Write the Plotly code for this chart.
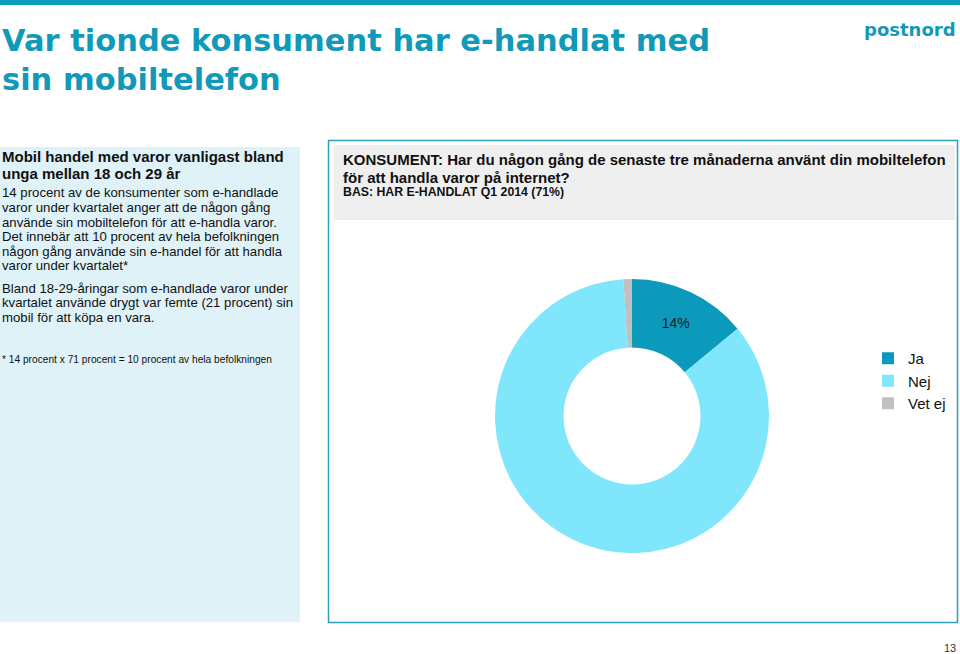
import plotly.graph_objects as go

labels = ["Ja", "Nej", "Vet ej"]
values = [14, 85, 1]
colors = ["#0b9abb", "#80e6fb", "#c0c0c0"]
slice_text = ["14%", "", ""]

W, H = 960, 654
TEAL = "#1199b9"

title_lines = ["Var tionde konsument har e-handlat med", "sin mobiltelefon"]
heading_lines = ["Mobil handel med varor vanligast bland", "unga mellan 18 och 29 år"]
body1 = ["14 procent av de konsumenter som e-handlade",
         "varor under kvartalet anger att de någon gång",
         "använde sin mobiltelefon för att e-handla varor.",
         "Det innebär att 10 procent av hela befolkningen",
         "någon gång använde sin e-handel för att handla",
         "varor under kvartalet*"]
body2 = ["Bland 18-29-åringar som e-handlade varor under",
         "kvartalet använde drygt var femte (21 procent) sin",
         "mobil för att köpa en vara."]
footnote = "* 14 procent x 71 procent = 10 procent av hela befolkningen"
question = ["KONSUMENT: Har du någon gång de senaste tre månaderna använt din mobiltelefon",
            "för att handla varor på internet?"]
base_text = "BAS: HAR E-HANDLAT Q1 2014 (71%)"

def px(x):
    return x / W

def py(y):
    return 1 - y / H

fig = go.Figure()
fig.add_trace(go.Pie(
    labels=labels, values=values, hole=0.5, sort=False, direction="clockwise",
    rotation=0, marker=dict(colors=colors, line=dict(width=0)),
    text=slice_text, textinfo="text", textposition="inside",
    insidetextorientation="horizontal",
    textfont=dict(family="Liberation Sans", size=14, color="#1a1a1a"),
    domain=dict(x=[px(632 - 137), px(632 + 137)], y=[py(416 + 137), py(416 - 137)]),
    hoverinfo="label+percent",
))

shapes = [
    dict(type="rect", xref="paper", yref="paper", x0=0, x1=1, y0=py(5), y1=1,
         fillcolor="#0e9cbb", line=dict(width=0), layer="below"),
    dict(type="rect", xref="paper", yref="paper", x0=0, x1=px(300), y0=py(622), y1=py(147),
         fillcolor="#dff2f8", line=dict(width=0), layer="below"),
    dict(type="rect", xref="paper", yref="paper", x0=px(328.5), x1=px(957.5), y0=py(622.5), y1=py(140.5),
         fillcolor="rgba(0,0,0,0)", line=dict(width=1.5, color="#2c9fbd"), layer="below"),
    dict(type="rect", xref="paper", yref="paper", x0=px(334), x1=px(955), y0=py(220), y1=py(145),
         fillcolor="#efefef", line=dict(width=0), layer="below"),
]

ann = []
def txt(s, x, y, size, color="#111111", bold=False, family="Liberation Sans", xanchor="left"):
    if bold:
        s = "<b>" + s + "</b>"
    ann.append(dict(text=s, x=px(x), y=py(y), xref="paper", yref="paper", showarrow=False,
                    xanchor=xanchor, yanchor="middle", align="left",
                    font=dict(family=family, size=size, color=color)))

for i, s in enumerate(title_lines):
    txt(s, 0, 40 + 40 * i, 30.5, color=TEAL, bold=True, family="DejaVu Sans")
txt("postnord", 958, 30, 18, color=TEAL, bold=True, family="DejaVu Sans", xanchor="right")

for i, s in enumerate(heading_lines):
    txt(s, 0, 156 + 17 * i, 15, bold=True)
for i, s in enumerate(body1):
    txt(s, 0, 193 + 14.6 * i, 13.2)
for i, s in enumerate(body2):
    txt(s, 0, 288 + 14.6 * i, 13.2)
txt(footnote, 0, 359, 10.2)

for i, s in enumerate(question):
    txt(s, 341, 160 + 17 * i, 15, bold=True)
txt(base_text, 341, 192, 12.3, bold=True)

txt("13", 958, 648, 11, color="#333333", xanchor="right")

fig.update_layout(
    width=W, height=H, margin=dict(l=0, r=0, t=0, b=0),
    paper_bgcolor="white", plot_bgcolor="white",
    shapes=shapes, annotations=ann,
    showlegend=True,
    legend=dict(x=px(868), y=py(342), xanchor="left", yanchor="top",
                font=dict(family="Liberation Sans", size=15, color="#111111"),
                bgcolor="rgba(0,0,0,0)", tracegroupgap=0, itemwidth=30),
)

fig.write_html("out.html")
